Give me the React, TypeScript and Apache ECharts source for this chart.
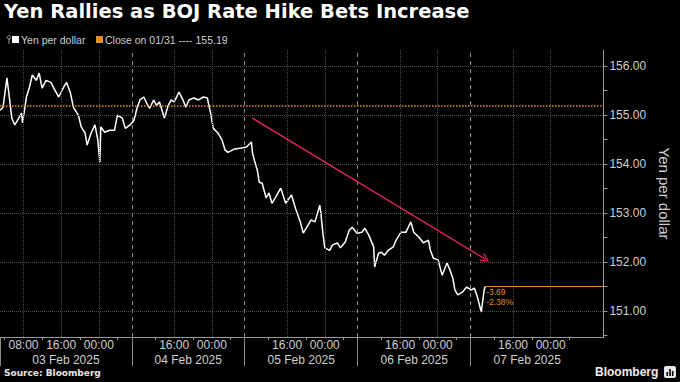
import React, { useEffect, useRef } from 'react';
import * as echarts from 'echarts';

const chartTitle = 'Yen Rallies as BOJ Rate Hike Bets Increase';
const seriesName = 'Yen per dollar';
const closeLabel = 'Close on 01/31';
const closeValue = 155.19;
const sourceText = 'Source: Bloomberg';
const brandText = 'Bloomberg';

// hours since 03 Feb 2025 00:00
const hours = [3.01,3.64,4.47,4.88,5.51,6.13,6.75,7.58,7.79,8.62,
  9.25,9.87,10.70,11.32,11.95,12.78,13.82,14.44,15.48,16.52,
  17.14,17.97,18.60,19.64,20.26,21.09,21.51,22.34,23.17,23.79,
  24.21,24.42,25.25,26.29,27.32,27.95,28.99,29.61,30.65,31.48,
  32.10,32.73,33.56,34.18,34.81,35.64,36.26,36.88,37.92,38.75,
  39.38,40.00,41.04,41.87,42.49,43.12,44.16,45.19,46.23,47.06,
  47.69,48.31,49.35,50.18,50.81,51.43,52.88,54.34,55.38,56.42,
  56.62,57.04,57.66,58.08,58.70,59.53,60.16,60.78,61.61,62.65,
  63.69,64.94,65.77,66.81,67.43,68.47,69.09,69.92,70.96,71.17,
  71.58,72.00,73.04,73.66,74.70,75.32,76.36,77.19,77.82,78.86,
  79.90,80.52,81.35,82.39,82.60,83.43,84.05,84.68,85.51,86.55,
  87.17,88.21,89.25,90.29,90.91,91.95,92.99,94.03,94.44,95.07,
  96.10,96.94,97.97,98.60,99.22,99.64,100.26,101.30,102.13,103.17,
  103.79,104.42,105.25,105.87,106.08];

const yen = [155.10,155.16,155.76,155.45,154.94,154.80,154.90,155.04,154.84,155.37,
  155.57,155.82,155.71,155.86,155.55,155.71,155.67,155.55,155.37,155.57,
  155.67,155.45,155.16,155.00,154.76,154.63,154.39,154.63,154.80,154.49,
  154.04,154.76,154.65,154.69,154.69,155.00,154.94,154.73,154.80,154.90,
  155.14,155.31,155.37,155.24,155.14,155.31,155.20,155.27,154.94,155.20,
  155.31,155.27,155.47,155.31,155.16,155.31,155.35,155.31,155.37,155.35,
  155.06,154.73,154.63,154.49,154.29,154.24,154.31,154.33,154.35,154.45,
  154.24,154.08,153.88,153.63,153.61,153.31,153.41,153.20,153.33,153.51,
  153.20,153.37,153.10,152.82,152.59,152.76,152.86,152.82,153.16,153.00,
  152.61,152.29,152.24,152.35,152.39,152.29,152.41,152.65,152.71,152.59,
  152.61,152.69,152.55,152.31,151.90,152.18,152.20,152.14,152.24,152.31,
  152.45,152.61,152.61,152.82,152.61,152.51,152.39,152.45,152.24,152.08,
  152.04,151.73,151.98,151.84,151.67,151.43,151.33,151.39,151.49,151.43,
  151.47,151.29,150.98,151.43,151.50];

const xMin = 3.0;
const xMax = 131.2;
const yMin = 150.47;
const yMax = 156.33;

const yLabelValues = [151, 152, 153, 154, 155, 156];
const yTickValues = [150.5, 151, 151.5, 152, 152.5, 153, 153.5, 154, 154.5, 155, 155.5, 156];
const timeTickHours = [8, 16, 24, 40, 48, 64, 72, 88, 96, 112, 120];
const timeTickLabels = ['08:00', '16:00', '00:00', '16:00', '00:00', '16:00', '00:00', '16:00', '00:00', '16:00', '00:00'];
const minorTickHours = [4, 12, 20, 28, 36, 44, 52, 60, 68, 76, 84, 92, 100, 108, 116, 124];
const daySeparatorHours = [31, 55, 79, 103];
const dateLabelHours = [17, 43, 67, 91, 115];
const dateLabels = ['03 Feb 2025', '04 Feb 2025', '05 Feb 2025', '06 Feb 2025', '07 Feb 2025'];
const trendStart = [56.6, 154.94];
const trendEnd = [106.1, 152.06];

const FONT = '"Liberation Sans", Arial, sans-serif';
const BOLD_FONT = '"DejaVu Sans", sans-serif';
const ORANGE = '#e0902a';
const GRID = '#4e4e4e';

export default function App() {
  const ref = useRef<HTMLDivElement>(null);
  useEffect(() => {
    if (!ref.current) return;
    const chart = echarts.init(ref.current, null, { renderer: 'svg' });
    const lastH = hours[hours.length - 1];
    const lastV = yen[yen.length - 1];
    const diff = (closeValue - lastV).toFixed(2);
    const pct = (((closeValue - lastV) / closeValue) * 100).toFixed(2);
    const chevron = 'path://M5,0 L10,9 L8.8,9.8 L5,2.6 L1.2,9.8 L0,9 Z';

    chart.setOption({
      animation: false,
      backgroundColor: '#000',
      title: {
        text: chartTitle,
        left: 4,
        top: 1,
        padding: 0,
        textStyle: { color: '#fff', fontSize: 19.5, fontWeight: 'bold', fontFamily: BOLD_FONT },
      },
      grid: { left: 0, right: 63, top: 50, bottom: 45, containLabel: false },
      xAxis: [
        {
          type: 'value',
          min: xMin,
          max: xMax,
          position: 'bottom',
          axisLine: { show: true, lineStyle: { color: '#9a9a9a', width: 1 } },
          axisTick: { show: true, customValues: minorTickHours, length: 3, lineStyle: { color: '#9a9a9a' } },
          axisLabel: {
            show: true,
            customValues: timeTickHours,
            margin: 2,
            color: '#cfcfcf',
            fontSize: 12,
            lineHeight: 12,
            fontFamily: FONT,
            formatter: (v: number) => {
              const i = timeTickHours.findIndex((h) => Math.abs(h - v) < 1e-6);
              return i >= 0 ? timeTickLabels[i] : '';
            },
          },
          splitLine: { show: false },
        },
        {
          type: 'value',
          min: xMin,
          max: xMax,
          position: 'bottom',
          offset: 0,
          axisLine: { show: false },
          axisTick: { show: true, customValues: [xMin, ...daySeparatorHours], length: 29, lineStyle: { color: '#8a8a8a' } },
          axisLabel: {
            show: true,
            customValues: dateLabelHours,
            margin: 17,
            color: '#cfcfcf',
            fontSize: 12,
            lineHeight: 12,
            fontFamily: FONT,
            formatter: (v: number) => {
              const i = dateLabelHours.findIndex((h) => Math.abs(h - v) < 1e-6);
              return i >= 0 ? dateLabels[i] : '';
            },
          },
          splitLine: { show: false },
        },
      ],
      yAxis: {
        type: 'value',
        position: 'right',
        min: yMin,
        max: yMax,
        name: seriesName,
        nameLocation: 'middle',
        nameRotate: -90,
        nameGap: 50,
        nameTextStyle: { color: '#cfcfcf', fontSize: 15, fontFamily: FONT },
        axisLine: { show: true, lineStyle: { color: '#9a9a9a' } },
        axisTick: { show: true, customValues: yTickValues, length: 4, lineStyle: { color: '#9a9a9a' } },
        axisLabel: {
          show: true,
          customValues: yLabelValues,
          margin: 6,
          color: '#cfcfcf',
          fontSize: 12,
          fontFamily: FONT,
          formatter: (v: number) => v.toFixed(2),
        },
        splitLine: { show: false },
      },
      series: [
        {
          type: 'line',
          xAxisIndex: 0,
          data: [],
          z: 1,
          silent: true,
          markLine: {
            silent: true,
            symbol: ['none', 'none'],
            label: { show: false },
            animation: false,
            data: [
              ...yLabelValues.map((v) => ({ yAxis: v, lineStyle: { color: GRID, type: 'dotted', width: 1 } })),
              ...timeTickHours.map((h) => ({ xAxis: h, lineStyle: { color: GRID, type: 'dotted', width: 1 } })),
              ...daySeparatorHours.map((h) => ({ xAxis: h, lineStyle: { color: '#8a8a8a', type: [4, 4], width: 1 } })),
              { yAxis: closeValue, lineStyle: { color: ORANGE, type: [1.5, 1.5], width: 1.5 } },
            ],
          },
        },
        {
          type: 'line',
          name: seriesName,
          xAxisIndex: 0,
          z: 3,
          data: hours.map((h, i) => [h, yen[i]]),
          showSymbol: false,
          symbol: 'none',
          lineStyle: { color: '#ffffff', width: 1.5 },
          markLine: {
            silent: true,
            symbol: ['none', 'none'],
            label: { show: false },
            animation: false,
            data: [
              [
                { coord: [lastH, lastV], lineStyle: { color: ORANGE, width: 1, type: 'solid' } },
                { coord: [xMax, lastV] },
              ],
              [
                { coord: trendStart, symbol: 'none', lineStyle: { color: '#e2255a', width: 1.3, type: 'solid' } },
                { coord: trendEnd, symbol: chevron, symbolSize: [9, 9] },
              ],
            ],
          },
          markPoint: {
            silent: true,
            animation: false,
            data: [
              {
                coord: [lastH, lastV],
                symbol: 'circle',
                symbolSize: 0,
                label: {
                  show: true,
                  position: 'right',
                  distance: 1,
                  offset: [0, 10],
                  formatter: `-${diff}\n-${pct}%`,
                  color: ORANGE,
                  fontSize: 8.5,
                  lineHeight: 10,
                  fontFamily: FONT,
                },
              },
            ],
          },
        },
      ],
      graphic: [
        { type: 'line', shape: { x1: 9, y1: 38, x2: 9, y2: 44 }, style: { stroke: '#999', lineWidth: 1 } },
        { type: 'circle', shape: { cx: 9, cy: 37.5, r: 1.8 }, style: { fill: 'none', stroke: '#999', lineWidth: 1 } },
        { type: 'rect', shape: { x: 12, y: 36, width: 7, height: 7 }, style: { fill: '#ffffff' } },
        { type: 'text', x: 21, y: 40, style: { text: seriesName, fill: '#cfcfcf', fontSize: 10.5, fontFamily: FONT, verticalAlign: 'middle' } },
        { type: 'rect', shape: { x: 96, y: 36, width: 7, height: 7 }, style: { fill: ORANGE } },
        { type: 'text', x: 105, y: 40, style: { text: `${closeLabel} ---- ${closeValue.toFixed(2)}`, fill: '#cfcfcf', fontSize: 10.5, fontFamily: FONT, verticalAlign: 'middle' } },
        { type: 'text', x: 4, y: 373, style: { text: sourceText, fill: '#e6e6e6', fontSize: 9, fontWeight: 'bold', fontFamily: BOLD_FONT, verticalAlign: 'middle' } },
        { type: 'text', x: 595, y: 372, style: { text: brandText, fill: '#f0f0f0', fontSize: 12, fontWeight: 'bold', fontFamily: FONT, verticalAlign: 'middle' } },
        { type: 'rect', shape: { x: 664, y: 366, width: 12, height: 12, r: 2 }, style: { fill: '#e8e8e8' } },
        { type: 'rect', shape: { x: 666.5, y: 372, width: 1.6, height: 4 }, style: { fill: '#000' } },
        { type: 'rect', shape: { x: 669.2, y: 369, width: 1.6, height: 7 }, style: { fill: '#000' } },
        { type: 'rect', shape: { x: 671.9, y: 371, width: 1.6, height: 5 }, style: { fill: '#000' } },
      ],
    });
    return () => chart.dispose();
  }, []);

  return (
    <div
      ref={ref}
      style={{ position: 'fixed', left: 0, top: 0, width: 680, height: 382, background: '#000' }}
    />
  );
}
